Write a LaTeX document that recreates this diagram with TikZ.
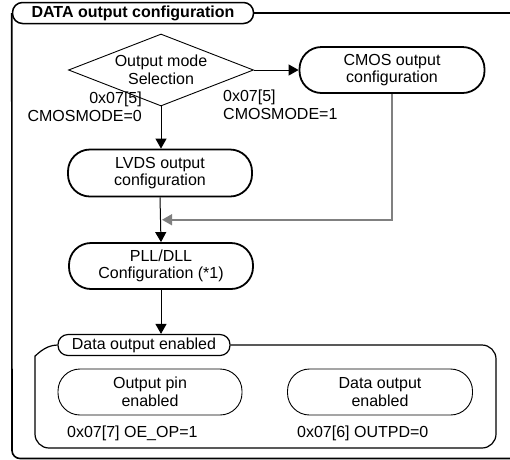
\documentclass[tikz,border=0pt]{standalone}
\definecolor{linegray}{gray}{0.50}
\usepackage{fontspec}
\setmainfont{Liberation Sans}
\usepackage{tikz}
\usetikzlibrary{arrows.meta,positioning,calc,shapes.geometric}
\tikzset{
  frameln/.style={black,line width=1.6pt,rounded corners=8pt},
  subframe/.style={black,line width=1.2pt,rounded corners=14pt},
  tabbox/.style={draw,line width=1.2pt,rounded corners=10pt,inner sep=0pt,minimum height=21pt},
  stepbox/.style={draw,line width=1.8pt,rounded corners=22pt,align=center,inner sep=0pt,minimum width=184pt,minimum height=46pt},
  enbox/.style={draw,line width=0.9pt,rounded corners=22pt,align=center,inner sep=0pt,minimum width=184pt,minimum height=46pt},
  decide/.style={draw,diamond,line width=0.9pt,aspect=2.57,inner sep=0pt,minimum width=185pt,minimum height=72pt},
  flow/.style={-{Triangle[length=10pt,width=11pt]},line width=1pt},
  backflow/.style={-{Triangle[length=10pt,width=11pt]},linegray,line width=1.5pt},
  reglab/.style={inner sep=0pt},
}

\begin{document}
\begin{tikzpicture}[x=1pt,y=-1pt,font=\fontsize{16}{17.5}\selectfont]
  \useasboundingbox (0,0) rectangle (510,459);
  \clip (0,0) rectangle (510,459);
  % outer frame with title tab
  \node[tabbox,minimum width=241pt,line width=1.5pt,font=\fontsize{16}{17.5}\selectfont\bfseries] (title) at (133,13) {DATA output configuration};
  \draw[frameln] (title.east) -- (520,13);
  \draw[frameln] (title.west) -- (12,458.5) -- (520,458.5);
  % mode selection
  \node[decide] (sel) at (161,70) {};
  \node[align=center,inner sep=0pt] (selt) at (161,70) {Output mode\\Selection};
  \node[stepbox,minimum width=185pt] (cmos) at (392,70) {CMOS output\\configuration};
  \node[stepbox,minimum height=47pt] (lvds) at (160,173) {LVDS output\\configuration};
  \node[stepbox] (pll) at (161,266) {PLL/DLL\\Configuration (*1)};
  \node[reglab,anchor=east,align=right] (lab0) at (142,107) {0x07[5]\\CMOSMODE=0};
  \node[reglab,anchor=west,align=left] (lab1) at (223,105) {0x07[5]\\CMOSMODE=1};
  \draw[flow] (sel.east) -- (cmos.west);
  \draw[flow] (sel.south) -- (sel.south |- lvds.north);
  % both paths meet before pll
  \coordinate (join) at ($(lvds.south)!0.5!(pll.north)$);
  \draw[flow] (lvds.south) -- (pll.north);
  \draw[backflow] (cmos.south) |- ($(join)+(1.5,0)$);
  % data output enabled block
  \node[tabbox,minimum width=172pt] (dtab) at (144,345) {Data output enabled};
  \draw[flow] (pll.south) -- (pll.south |- dtab.north);
  \draw[subframe] (dtab.east) -| (496,448) -| (35,370) to[out=90,in=180] (dtab.west);
  \node[enbox] (pin) at (150,392) {Output pin\\enabled};
  \node[enbox,minimum width=185pt] (den) at (380,392) {Data output\\enabled};
  \node[reglab,anchor=west] (pinlab) at (67,433) {0x07[7] OE\_OP=1};
  \node[reglab,anchor=west] (denlab) at (297,433) {0x07[6] OUTPD=0};
\end{tikzpicture}
\end{document}
